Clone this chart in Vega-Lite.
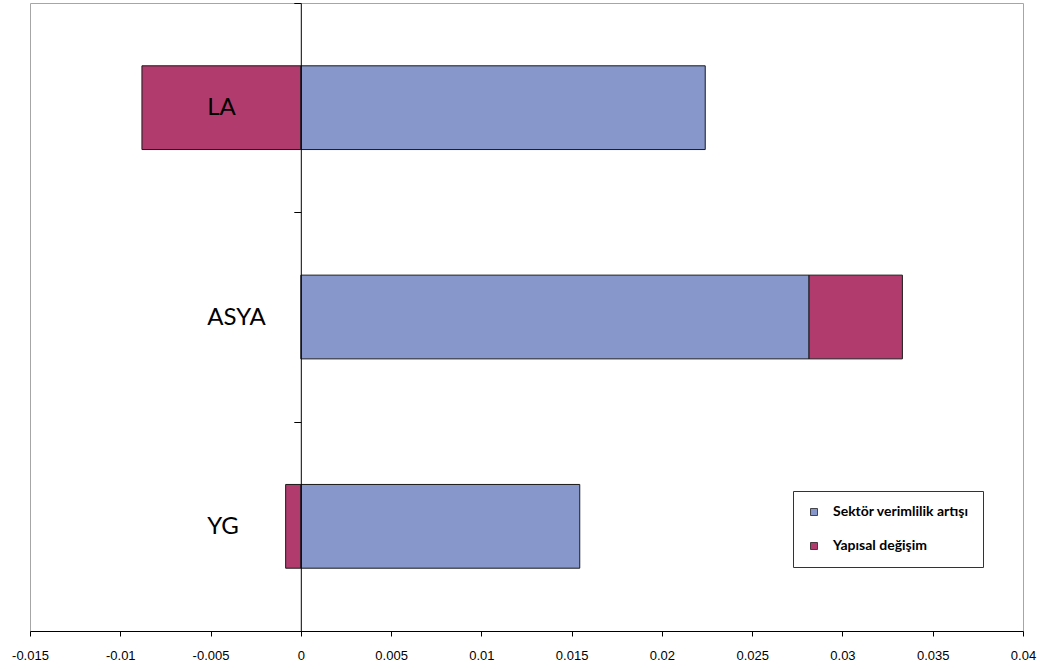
{
  "$schema": "https://vega.github.io/schema/vega-lite/v6.json",
  "width": 993,
  "height": 628,
  "autosize": {"type": "none"},
  "padding": {"left": 30, "top": 3, "right": 20, "bottom": 38},
  "background": "white",
  "config": {"view": {"stroke": "#a6a6a6", "strokeWidth": 1}},
  "data": {
    "values": [
      {"region": "LA", "component": "Sektör verimlilik artışı", "value": 0.0224},
      {"region": "LA", "component": "Yapısal değişim", "value": -0.0088},
      {"region": "ASYA", "component": "Sektör verimlilik artışı", "value": 0.02815},
      {"region": "ASYA", "component": "Yapısal değişim", "value": 0.00517},
      {"region": "YG", "component": "Sektör verimlilik artışı", "value": 0.01545},
      {"region": "YG", "component": "Yapısal değişim", "value": -0.00084}
    ]
  },
  "mark": {"type": "bar", "stroke": "#1a1a1a", "strokeWidth": 1, "height": {"band": 0.4}},
  "encoding": {
    "y": {
      "field": "region",
      "type": "nominal",
      "sort": ["LA", "ASYA", "YG"],
      "scale": {"paddingInner": 0, "paddingOuter": 0},
      "axis": {
        "title": null,
        "offset": -270.8,
        "zindex": 1,
        "domainColor": "black",
        "domainWidth": 1,
        "tickColor": "black",
        "tickSize": 7,
        "tickBand": "extent",
        "labelAlign": "left",
        "labelBaseline": "middle",
        "labelPadding": 87,
        "labelFont": "Lato",
        "labelFontSize": 24,
        "labelColor": "black"
      }
    },
    "x": {
      "field": "value",
      "type": "quantitative",
      "stack": "zero",
      "scale": {"domain": [-0.015, 0.04], "nice": false, "zero": false},
      "axis": {
        "title": null,
        "grid": false,
        "zindex": 1,
        "values": [-0.015, -0.01, -0.005, 0, 0.005, 0.01, 0.015, 0.02, 0.025, 0.03, 0.035, 0.04],
        "labelExpr": "toString(datum.value)",
        "domainColor": "black",
        "tickColor": "black",
        "tickSize": 5,
        "labelPadding": 13,
        "labelFont": "Liberation Sans",
        "labelFontSize": 13,
        "labelColor": "black",
        "labelFlush": false
      }
    },
    "color": {
      "field": "component",
      "type": "nominal",
      "scale": {
        "domain": ["Sektör verimlilik artışı", "Yapısal değişim"],
        "range": ["#8796CB", "#B23B6E"]
      },
      "legend": {
        "title": null,
        "orient": "none",
        "legendX": 763,
        "legendY": 488,
        "direction": "vertical",
        "symbolType": "square",
        "symbolSize": 49,
        "symbolStrokeColor": "#222222",
        "symbolStrokeWidth": 0.8,
        "labelFont": "Lato",
        "labelFontWeight": "bold",
        "labelFontSize": 14,
        "labelColor": "black",
        "labelOffset": 12,
        "fillColor": "white",
        "strokeColor": "#333333",
        "padding": 14,
        "rowPadding": 20
      }
    },
    "order": {"field": "component", "sort": "ascending"}
  }
}
